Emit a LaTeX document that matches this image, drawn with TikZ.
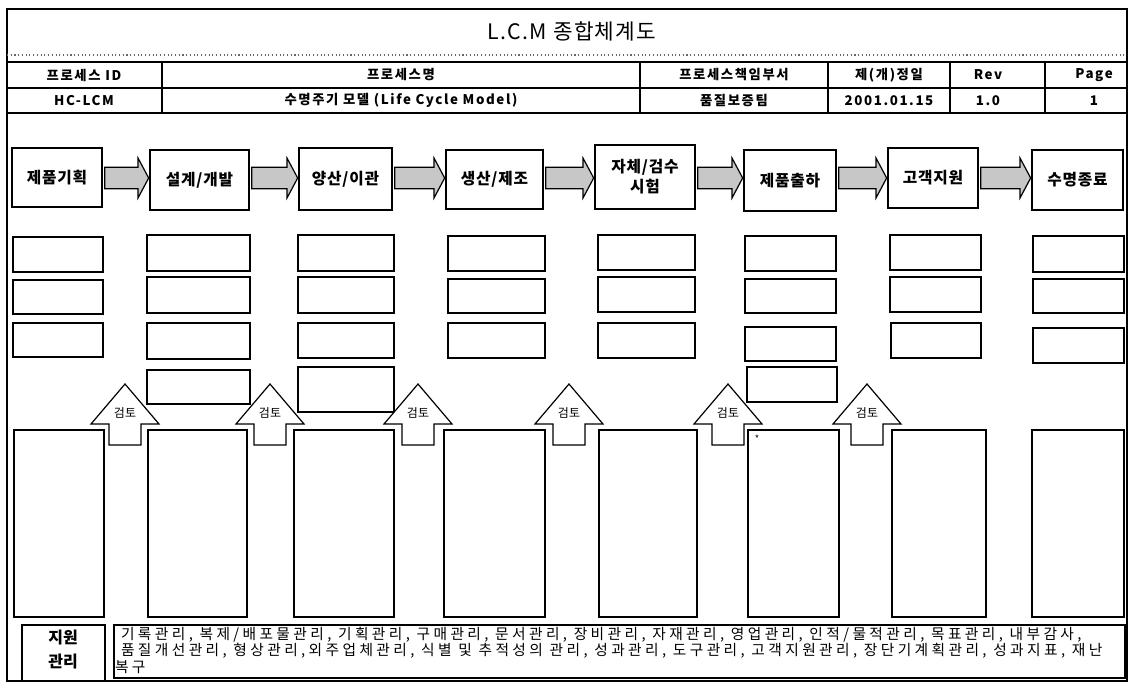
\documentclass[tikz,border=0pt]{standalone}
\usepackage{fontspec}
\setmainfont{Noto Sans CJK KR}
\newfontfamily\hdfont{Noto Sans CJK KR}[LetterSpace=12]
\newfontfamily\pfont{Noto Sans CJK KR}[LetterSpace=5]
\newfontfamily\tfont{Noto Sans CJK KR}[LetterSpace=23]
\newfontfamily\ttlfont{Noto Sans CJK KR}[LetterSpace=6]
\usetikzlibrary{calc}
\newcommand\bx[7]{\node[#6,minimum width={(#4-#2)*0.75pt},minimum height={(#5-#3)*0.75pt}] (#1) at ({(#2+#4)/2},{(#3+#5)/2}) {#7};}
\newcommand\barr[2]{\draw[barrow] let \p1=(#1.east), \p2=(#2.west), \p3=(arow) in
  (\x1+2pt,\y3-8pt) -- (\x2-9pt,\y3-8pt) -- (\x2-9pt,\y3-15pt) -- (\x2-1pt,\y3) --
  (\x2-9pt,\y3+15pt) -- (\x2-9pt,\y3+8pt) -- (\x1+2pt,\y3+8pt) -- cycle;}
\newcommand\rev[2]{\draw[rarrow] (#2,384) -- ({#2+34},424) -- ({#2+16},424) -- ({#2+16},445) --
  ({#2-16},445) -- ({#2-16},424) -- ({#2-34},424) -- cycle;
  \node[revtext] (#1) at (#2,413) {검토};}
\begin{document}
\begin{tikzpicture}[x=0.75pt,y=-0.75pt,
  every node/.style={inner sep=0pt,outer sep=0pt},
  box/.style={draw,line width=1.1pt,fill=white},
  procbox/.style={box,font=\pfont\bfseries\fontsize{11.8}{15}\selectfont,align=center},
  hd/.style={font=\hdfont\bfseries\fontsize{10}{12}\selectfont},
  barrow/.style={draw,line width=0.9pt,fill=black!22},
  rarrow/.style={draw,line width=0.9pt,fill=white},
  revtext/.style={font=\fontsize{9}{10}\selectfont},
  btext/.style={anchor=west,font=\tfont\fontsize{11.05}{13}\selectfont},
  ]
\useasboundingbox (0,0) rectangle (1129,683);
% frame and header
\draw[line width=1.2pt] (7,9) rectangle (1127,681);
\node[font=\ttlfont\fontsize{16}{18}\selectfont] (title) at (572,31) {L.C.M 종합체계도};
\draw[black!60,dotted,line width=0.8pt] (7,55) -- (1127,55);
\draw[line width=2pt] (7,62) -- (1127,62);
\draw[line width=1.2pt] (7,88) -- (1127,88);
\draw[line width=2pt] (7,113) -- (1127,113);
\foreach \x in {162,640,828,950,1045} \draw[line width=1.2pt] (\x,62) -- (\x,113);
\node[hd] (h1) at (84,75) {프로세스 ID};
\node[hd] (h2) at (401,75) {프로세스명};
\node[hd] (h3) at (734,75) {프로세스책임부서};
\node[hd] (h4) at (889,75) {제(개)정일};
\node[hd] (h5) at (988,75) {Rev};
\node[hd] (h6) at (1094,75) {Page};
\node[hd] (v1) at (84,100.5) {HC-LCM};
\node[hd] (v2) at (401,100.5) {수명주기 모델 (Life Cycle Model)};
\node[hd] (v3) at (734,100.5) {품질보증팀};
\node[hd] (v4) at (889,100.5) {2001.01.15};
\node[hd] (v5) at (988,100.5) {1.0};
\node[hd] (v6) at (1094,100.5) {1};
% process boxes
\coordinate (arow) at (0,178);
\bx{p1}{12}{148}{102}{207}{procbox}{제품기획}
\bx{p2}{150}{150}{249}{210}{procbox}{설계/개발}
\bx{p3}{299}{148}{392}{210}{procbox}{양산/이관}
\bx{p4}{446}{150}{543}{209}{procbox}{생산/제조}
\bx{p5}{595}{145}{695}{209}{procbox}{자체/검수\\시험}
\bx{p6}{744}{150}{836}{211}{procbox}{제품출하}
\bx{p7}{888}{148}{978}{208}{procbox}{고객지원}
\bx{p8}{1032}{150}{1123}{210}{procbox}{수명종료}
\barr{p1}{p2}\barr{p2}{p3}\barr{p3}{p4}\barr{p4}{p5}
\barr{p5}{p6}\barr{p6}{p7}\barr{p7}{p8}
% small boxes
\bx{a1}{13}{237}{103}{272}{box}{}
\bx{a2}{13}{280}{103}{314}{box}{}
\bx{a3}{13}{323}{103}{357}{box}{}
\bx{b1}{147}{235}{250}{271}{box}{}
\bx{b2}{147}{277}{250}{313}{box}{}
\bx{b3}{147}{323}{250}{359}{box}{}
\bx{b4}{147}{370}{250}{404}{box}{}
\bx{c1}{298}{235}{394}{271}{box}{}
\bx{c2}{298}{277}{394}{313}{box}{}
\bx{c3}{298}{323}{394}{358}{box}{}
\bx{c4}{298}{367}{394}{412}{box}{}
\bx{d1}{448}{236}{545}{271}{box}{}
\bx{d2}{448}{279}{545}{313}{box}{}
\bx{d3}{448}{323}{545}{358}{box}{}
\bx{e1}{598}{235}{695}{270}{box}{}
\bx{e2}{598}{277}{695}{312}{box}{}
\bx{e3}{598}{323}{695}{358}{box}{}
\bx{f1}{745}{236}{836}{271}{box}{}
\bx{f2}{745}{279}{836}{313}{box}{}
\bx{f3}{745}{327}{836}{361}{box}{}
\bx{f4}{747}{367}{837}{402}{box}{}
\bx{g1}{890}{235}{981}{270}{box}{}
\bx{g2}{890}{277}{981}{312}{box}{}
\bx{g3}{891}{323}{981}{358}{box}{}
\bx{k1}{1033}{236}{1124}{272}{box}{}
\bx{k2}{1033}{279}{1124}{313}{box}{}
\bx{k3}{1033}{328}{1124}{363}{box}{}
% tall boxes
\bx{t1}{14}{430}{104}{617}{box}{}
\bx{t2}{148}{430}{247}{617}{box}{}
\bx{t3}{294}{430}{394}{617}{box}{}
\bx{t4}{444}{430}{545}{617}{box}{}
\bx{t5}{599}{430}{697}{617}{box}{}
\bx{t6}{748}{430}{839}{617}{box}{}
\bx{t7}{892}{430}{986}{617}{box}{}
\bx{t8}{1032}{430}{1124}{617}{box}{}
\node[font=\fontsize{7}{8}\selectfont] (star) at (757,439) {*};
% review arrows
\rev{r1}{125}\rev{r2}{270}\rev{r3}{418}\rev{r4}{569}\rev{r5}{728}\rev{r6}{867}
% support
\bx{s1}{22}{625}{105}{681}{box}{}
\node[font=\bfseries\fontsize{12}{14}\selectfont] (s1a) at (63,637) {지원};
\node[font=\bfseries\fontsize{12}{14}\selectfont] (s1b) at (63,662) {관리};
\bx{s2}{114}{625}{1125}{678}{box}{}
\node[btext] (l1) at (121,635) {기록관리, 복제/배포물관리, 기획관리, 구매관리, 문서관리, 장비관리, 자재관리, 영업관리, 인적/물적관리, 목표관리, 내부감사,};
\node[btext] (l2) at (121,651) {품질개선관리, 형상관리,외주업체관리, 식별 및 추적성의 관리, 성과관리, 도구관리, 고객지원관리, 장단기계획관리, 성과지표, 재난};
\node[btext] (l3) at (115,667) {복구};
\end{tikzpicture}
\end{document}
